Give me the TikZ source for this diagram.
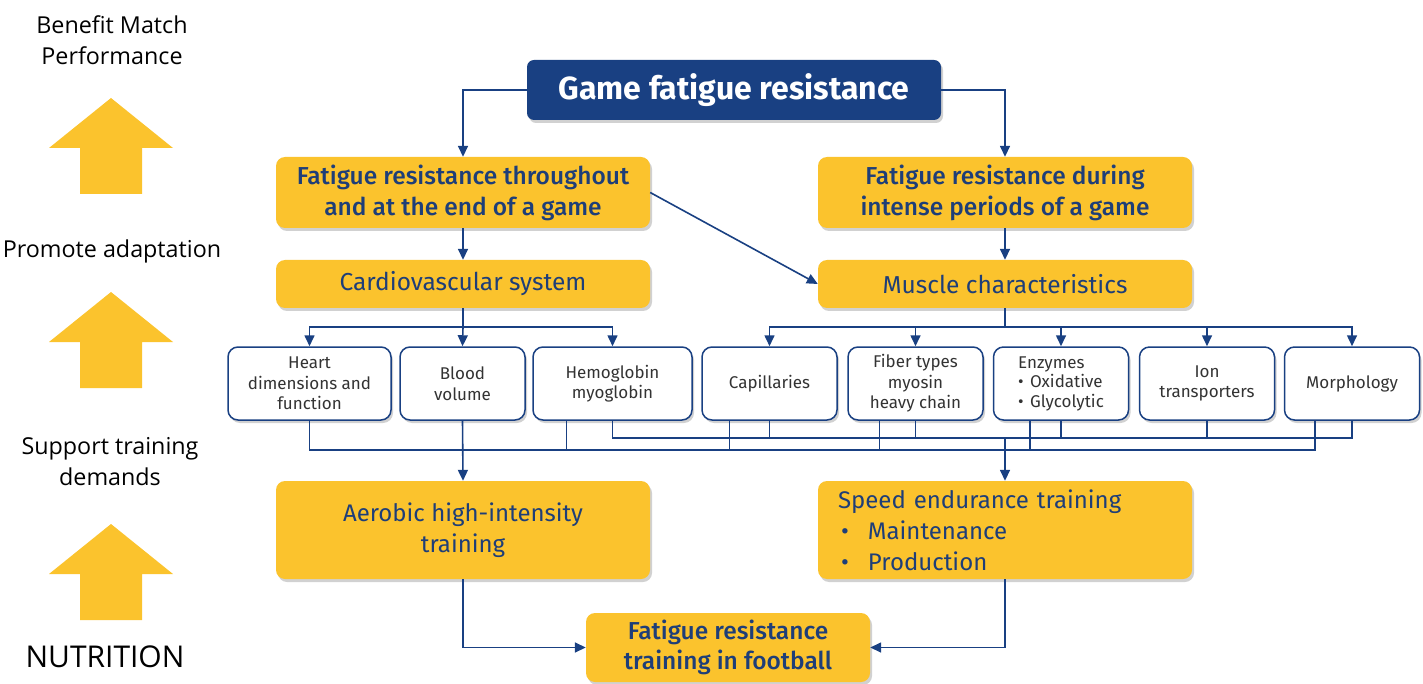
\documentclass[tikz,border=0pt]{standalone}
\usepackage{fontspec}
\setmainfont{Fira Sans}
\newfontfamily\medfont{Fira Sans Medium}
\newfontfamily\sidefont{Open Sans}
\usetikzlibrary{arrows.meta,positioning,calc,shadows}
\definecolor{navycol}{RGB}{25,64,130}
\definecolor{goldcol}{RGB}{251,195,45}
\definecolor{inkcol}{RGB}{30,62,120}
\tikzset{
  conn/.style={-{Triangle[length=11pt,width=10pt]}, line width=1.6pt, navycol},
  busln/.style={line width=1.6pt, navycol},
  softshadow/.style={drop shadow={shadow xshift=2pt, shadow yshift=-3pt, opacity=0.3, fill=black!60}},
  goldbox/.style={fill=goldcol, rounded corners=9pt, text=inkcol, align=center,
    inner sep=0pt, minimum width=374pt, softshadow},
  cellbox/.style={draw=navycol, line width=1.5pt, fill=white, rounded corners=10pt,
    align=center, inner sep=0pt, minimum height=73pt, text=black!80,
    font=\fontsize{17}{20.5}\selectfont, softshadow},
  sidetxt/.style={align=center, text=black, font=\sidefont\fontsize{23.3}{31}\selectfont},
}
\begin{document}
\begin{tikzpicture}[x=1pt, y=-1pt]
  \useasboundingbox (0,0) rectangle (1423,684);
  % top of the tree
  \node[fill=navycol, rounded corners=7pt, minimum width=414pt, minimum height=60pt, inner sep=0pt,
    text=white, font=\bfseries\fontsize{32}{36}\selectfont, softshadow]
    (game) at (734,90) {Game fatigue resistance};
  \node[goldbox, minimum height=71pt, font=\medfont\fontsize{24.5}{31}\selectfont]
    (whole) at (463,192.5) {Fatigue resistance throughout\\and at the end of a game};
  \node[goldbox, minimum height=71pt, font=\medfont\fontsize{24.5}{31}\selectfont]
    (intense) at (1005,192.5) {Fatigue resistance during\\intense periods of a game};
  \node[goldbox, minimum height=48pt, font=\fontsize{24.5}{28}\selectfont]
    (cardio) at (463,284) {Cardiovascular system};
  \node[goldbox, minimum height=48pt, font=\fontsize{24.5}{28}\selectfont]
    (muscle) at (1005,284) {Muscle characteristics};
  % factors
  \node[cellbox, minimum width=163pt] (heart) at (309.5,383.5) {Heart\\dimensions and\\function};
  \node[cellbox, minimum width=125pt] (blood) at (462.5,383.5) {Blood\\volume};
  \node[cellbox, minimum width=159pt] (hemo) at (612.5,383.5) {Hemoglobin\\myoglobin};
  \node[cellbox, minimum width=135pt] (capil) at (769.5,383.5) {Capillaries};
  \node[cellbox, minimum width=135pt] (fiber) at (915.5,383.5) {Fiber types\\myosin\\heavy chain};
  \node[cellbox, minimum width=135pt, align=left] (enzyme) at (1061,383.5) {Enzymes\\[-1pt]
    \makebox[12pt][l]{\textbullet}Oxidative\\[-1pt]\makebox[12pt][l]{\textbullet}Glycolytic};
  \node[cellbox, minimum width=135pt] (iontr) at (1207,383.5) {Ion\\transporters};
  \node[cellbox, minimum width=135pt] (morph) at (1352,383.5) {Morphology};
  % training
  \node[goldbox, minimum height=98pt, font=\fontsize{24}{31}\selectfont]
    (aerobic) at (463,530) {Aerobic high-intensity\\training};
  \node[goldbox, minimum height=98pt, text width=334pt, align=left, font=\fontsize{24}{31}\selectfont]
    (speed) at (1005,530) {Speed endurance training\\
    \hspace*{3pt}\makebox[27pt][l]{\textbullet}Maintenance\\
    \hspace*{3pt}\makebox[27pt][l]{\textbullet}Production};
  \node[goldbox, minimum width=284pt, minimum height=69pt, font=\medfont\fontsize{24.5}{30}\selectfont]
    (football) at (728,647.5) {Fatigue resistance\\training in football};
  % side column
  \node[sidetxt] (benefit) at (112,40) {Benefit Match\\Performance};
  \node[sidetxt] (promote) at (112,251) {Promote adaptation};
  \node[sidetxt] (support) at (110,462) {Support training\\demands};
  \node[sidetxt, font=\sidefont\fontsize{30}{36}\selectfont] (nutri) at (105,657) {NUTRITION};
  \foreach \ty in {98,292,524}
    \fill[goldcol] (111,\ty) -- (173,\ty+50) -- (142,\ty+50) -- (142,\ty+96)
      -- (80,\ty+96) -- (80,\ty+50) -- (49,\ty+50) -- cycle;
  % connectors
  \draw[conn] (game.west) -| (whole.north);
  \draw[conn] (game.east) -| (intense.north);
  \draw[conn] (whole.south) -- (cardio.north);
  \draw[conn] (intense.south) -- (muscle.north);
  \draw[conn] (whole.east) -- (muscle.west);
  \coordinate (cfork) at (463,327);
  \coordinate (mfork) at (1005,327);
  \draw[busln] (cardio.south) -- (cfork);
  \draw[busln] (muscle.south) -- (mfork);
  \draw[conn] (cfork) -| (heart.north);
  \draw[conn] (cfork) -- (blood.north);
  \draw[conn] (cfork) -| (hemo.north);
  \foreach \n in {capil,fiber,enzyme,iontr,morph}
    \draw[conn] (mfork) -| (\n.north);
  % collecting lines
  \coordinate (lowbus) at (0,450);
  \coordinate (upbus) at (0,438);
  \draw[busln] (heart.south) |- ([xshift=-37pt]morph.south |- lowbus) -- ([xshift=-37pt]morph.south);
  \draw[busln] (hemo.south) |- (morph.south |- upbus) -- (morph.south);
  \foreach \n/\dx in {hemo/-46,capil/-40,fiber/-36,enzyme/-31}
    \draw[busln] ([xshift=\dx pt]\n.south) -- ([xshift=\dx pt]\n.south |- lowbus);
  \foreach \n in {capil,fiber,enzyme,iontr}
    \draw[busln] (\n.south) -- (\n.south |- upbus);
  \draw[conn] (blood.south) -- (aerobic.north);
  \draw[conn] (muscle.south |- upbus) -- (speed.north);
  \draw[conn] (aerobic.south) |- (football.west);
  \draw[conn] (speed.south) |- (football.east);
\end{tikzpicture}
\end{document}
